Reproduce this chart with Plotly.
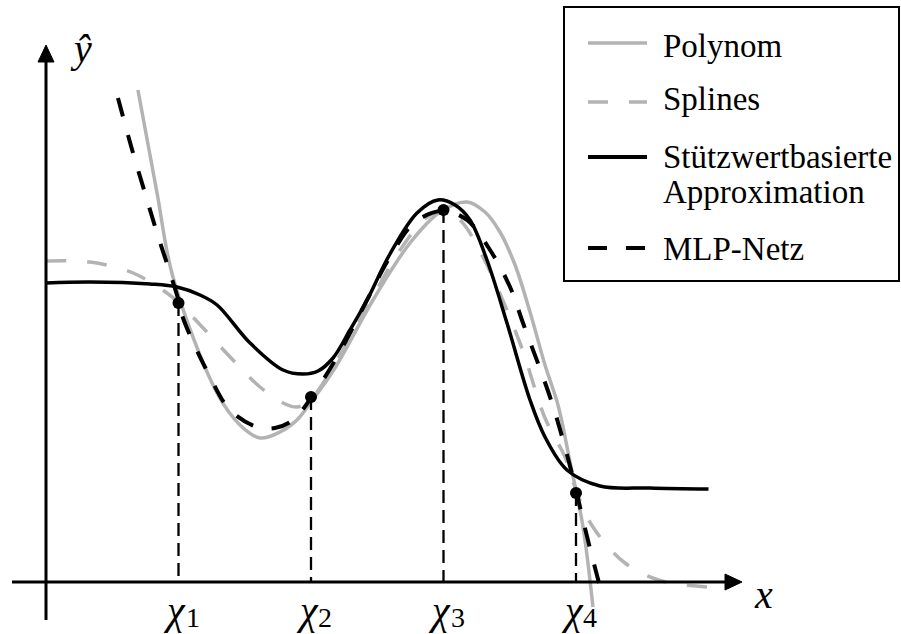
import plotly.graph_objects as go

# ---- data (schematic units: x in multiples of chi spacing, y arbitrary) ----
chi_x = [1.0, 2.0, 3.0, 4.0]
chi_y = [2.79, 1.85, 3.72, 0.89]
chi_labels = ["1", "2", "3", "4"]

poly_x = [0.694, 0.838, 0.958, 1.291, 1.464, 1.615, 1.766, 1.894, 2.0, 2.181, 2.468, 2.747,
          2.974, 3.177, 3.313, 3.426, 3.540, 3.653, 3.766, 3.864, 3.955, 4.053, 4.128]
poly_y = [4.92, 3.89, 3.05, 1.89, 1.57, 1.44, 1.50, 1.62, 1.80, 2.14, 2.82, 3.39,
          3.70, 3.80, 3.70, 3.50, 3.17, 2.70, 2.17, 1.77, 1.20, 0.55, -0.25]

spl_x = [0.0, 0.332, 0.657, 0.913, 1.004, 1.2, 1.411, 1.615, 1.789, 1.894, 2.0, 2.219, 2.445,
         2.672, 2.860, 2.996, 3.125, 3.298, 3.577, 3.766, 3.917, 4.0, 4.128, 4.370, 4.649, 4.996]
spl_y = [3.21, 3.20, 3.09, 2.89, 2.79, 2.52, 2.22, 1.95, 1.79, 1.75, 1.83, 2.27, 2.80,
         3.32, 3.63, 3.72, 3.62, 3.25, 2.39, 1.64, 1.25, 0.92, 0.55, 0.19, 0.01, -0.05]

stw_x = [0.0, 0.332, 0.785, 0.989, 1.162, 1.291, 1.540, 1.789, 1.940, 2.053, 2.166, 2.294, 2.423,
         2.596, 2.8, 2.958, 3.087, 3.2, 3.328, 3.479, 3.653, 3.766, 3.932, 4.181, 4.558, 5.0]
stw_y = [2.99, 3.00, 2.98, 2.95, 2.87, 2.77, 2.39, 2.12, 2.08, 2.11, 2.24, 2.52, 2.82,
         3.28, 3.69, 3.82, 3.77, 3.62, 3.22, 2.59, 1.82, 1.45, 1.12, 0.96, 0.94, 0.93]

mlp_x = [0.543, 0.657, 0.747, 0.838, 0.936, 1.004, 1.034, 1.238, 1.389, 1.592, 1.728, 1.864,
         2.0, 2.196, 2.423, 2.596, 2.785, 2.996, 3.177, 3.351, 3.502, 3.6, 3.804, 3.902,
         4.0, 4.053, 4.128, 4.204]
mlp_y = [4.84, 4.29, 3.89, 3.49, 3.09, 2.80, 2.64, 2.05, 1.72, 1.55, 1.54, 1.62,
         1.84, 2.25, 2.82, 3.25, 3.60, 3.71, 3.62, 3.32, 2.95, 2.59, 1.85, 1.42,
         0.92, 0.62, 0.22, -0.16]

legend_names = ["Polynom", "Splines", "Stützwertbasierte", "Approximation", "MLP-Netz"]

GREY = "#b3b3b3"
FONT = "'Liberation Serif', 'Times New Roman', Times, 'DejaVu Serif', serif"

# pixel -> axis helpers for decorations only
def X(px):
    return (px - 46) / 132.5

def Y(py):
    return (582 - py) / 100

fig = go.Figure()

fig.add_trace(go.Scatter(x=poly_x, y=poly_y, mode="lines", line=dict(color=GREY, width=3.5, shape="spline"),
                         showlegend=False))
fig.add_trace(go.Scatter(x=spl_x, y=spl_y, mode="lines",
                         line=dict(color=GREY, width=3.5, shape="spline", dash="20px,21px"), showlegend=False))
fig.add_trace(go.Scatter(x=stw_x, y=stw_y, mode="lines", line=dict(color="black", width=3.5, shape="spline"),
                         showlegend=False))
fig.add_trace(go.Scatter(x=mlp_x, y=mlp_y, mode="lines",
                         line=dict(color="black", width=4, shape="spline", dash="19px,19px"), showlegend=False))

# drop lines from support points to x axis
for cx, cy in zip(chi_x, chi_y):
    fig.add_trace(go.Scatter(x=[cx, cx], y=[cy, 0], mode="lines",
                             line=dict(color="black", width=2.3, dash="13px,7px"), showlegend=False))

fig.add_trace(go.Scatter(x=chi_x, y=chi_y, mode="markers", marker=dict(color="black", size=12),
                         showlegend=False))

shapes = []
# axes
shapes.append(dict(type="line", x0=X(12), x1=X(728), y0=0, y1=0, line=dict(color="black", width=3)))
shapes.append(dict(type="line", x0=0, x1=0, y0=Y(620), y1=Y(60), line=dict(color="black", width=3)))
shapes.append(dict(type="path",
                   path=f"M {X(742)} {Y(582)} L {X(725)} {Y(574)} L {X(725)} {Y(590)} Z",
                   fillcolor="black", line=dict(color="black", width=1)))
shapes.append(dict(type="path",
                   path=f"M {X(46)} {Y(45)} L {X(38)} {Y(62)} L {X(54)} {Y(62)} Z",
                   fillcolor="black", line=dict(color="black", width=1)))

# legend box
shapes.append(dict(type="rect", x0=X(564), x1=X(899), y0=Y(281), y1=Y(7),
                   line=dict(color="black", width=2), fillcolor="white", layer="below"))
leg_y = [43, 102, 157, 248]
leg_style = [(GREY, "solid", 3.5), (GREY, "20px,21px", 3.5), ("black", "solid", 4), ("black", "19px,19px", 4)]
for ly, (c, d, w) in zip(leg_y, leg_style):
    shapes.append(dict(type="line", x0=X(588), x1=X(647), y0=Y(ly), y1=Y(ly),
                       line=dict(color=c, width=w, dash=d)))

annotations = []
leg_text_y = [46, 99, 157, 192, 249]
for name, ty in zip(legend_names, leg_text_y):
    annotations.append(dict(x=X(661), y=Y(ty), text=name, showarrow=False, xanchor="left", yanchor="middle",
                            font=dict(family=FONT, size=33, color="black")))

for cx, lab in zip(chi_x, chi_labels):
    annotations.append(dict(x=cx, y=Y(634), text="<i>χ</i>", xshift=-4,
                            showarrow=False, xanchor="center", yanchor="bottom", borderpad=0,
                            font=dict(family=FONT, size=40, color="black")))
    annotations.append(dict(x=cx, y=Y(634), text=lab, xshift=6,
                            showarrow=False, xanchor="left", yanchor="bottom", borderpad=0,
                            font=dict(family=FONT, size=28, color="black")))

annotations.append(dict(x=X(763), y=Y(594), text="<i>x</i>", showarrow=False, xanchor="center",
                        yanchor="middle", font=dict(family=FONT, size=40, color="black")))
annotations.append(dict(x=X(81), y=Y(48), text="<i>ŷ</i>", showarrow=False, xanchor="center",
                        yanchor="middle", font=dict(family=FONT, size=40, color="black")))

fig.update_layout(
    width=901, height=634, autosize=False,
    margin=dict(l=0, r=0, t=0, b=0),
    plot_bgcolor="white", paper_bgcolor="white",
    xaxis=dict(range=[X(0), X(901)], visible=False, fixedrange=True),
    yaxis=dict(range=[Y(634), Y(0)], visible=False, fixedrange=True),
    shapes=shapes, annotations=annotations, showlegend=False,
)

fig.write_html("out.html", config={"displayModeBar": False},
               post_script="document.body.style.margin='0';document.body.style.overflow='hidden';")
